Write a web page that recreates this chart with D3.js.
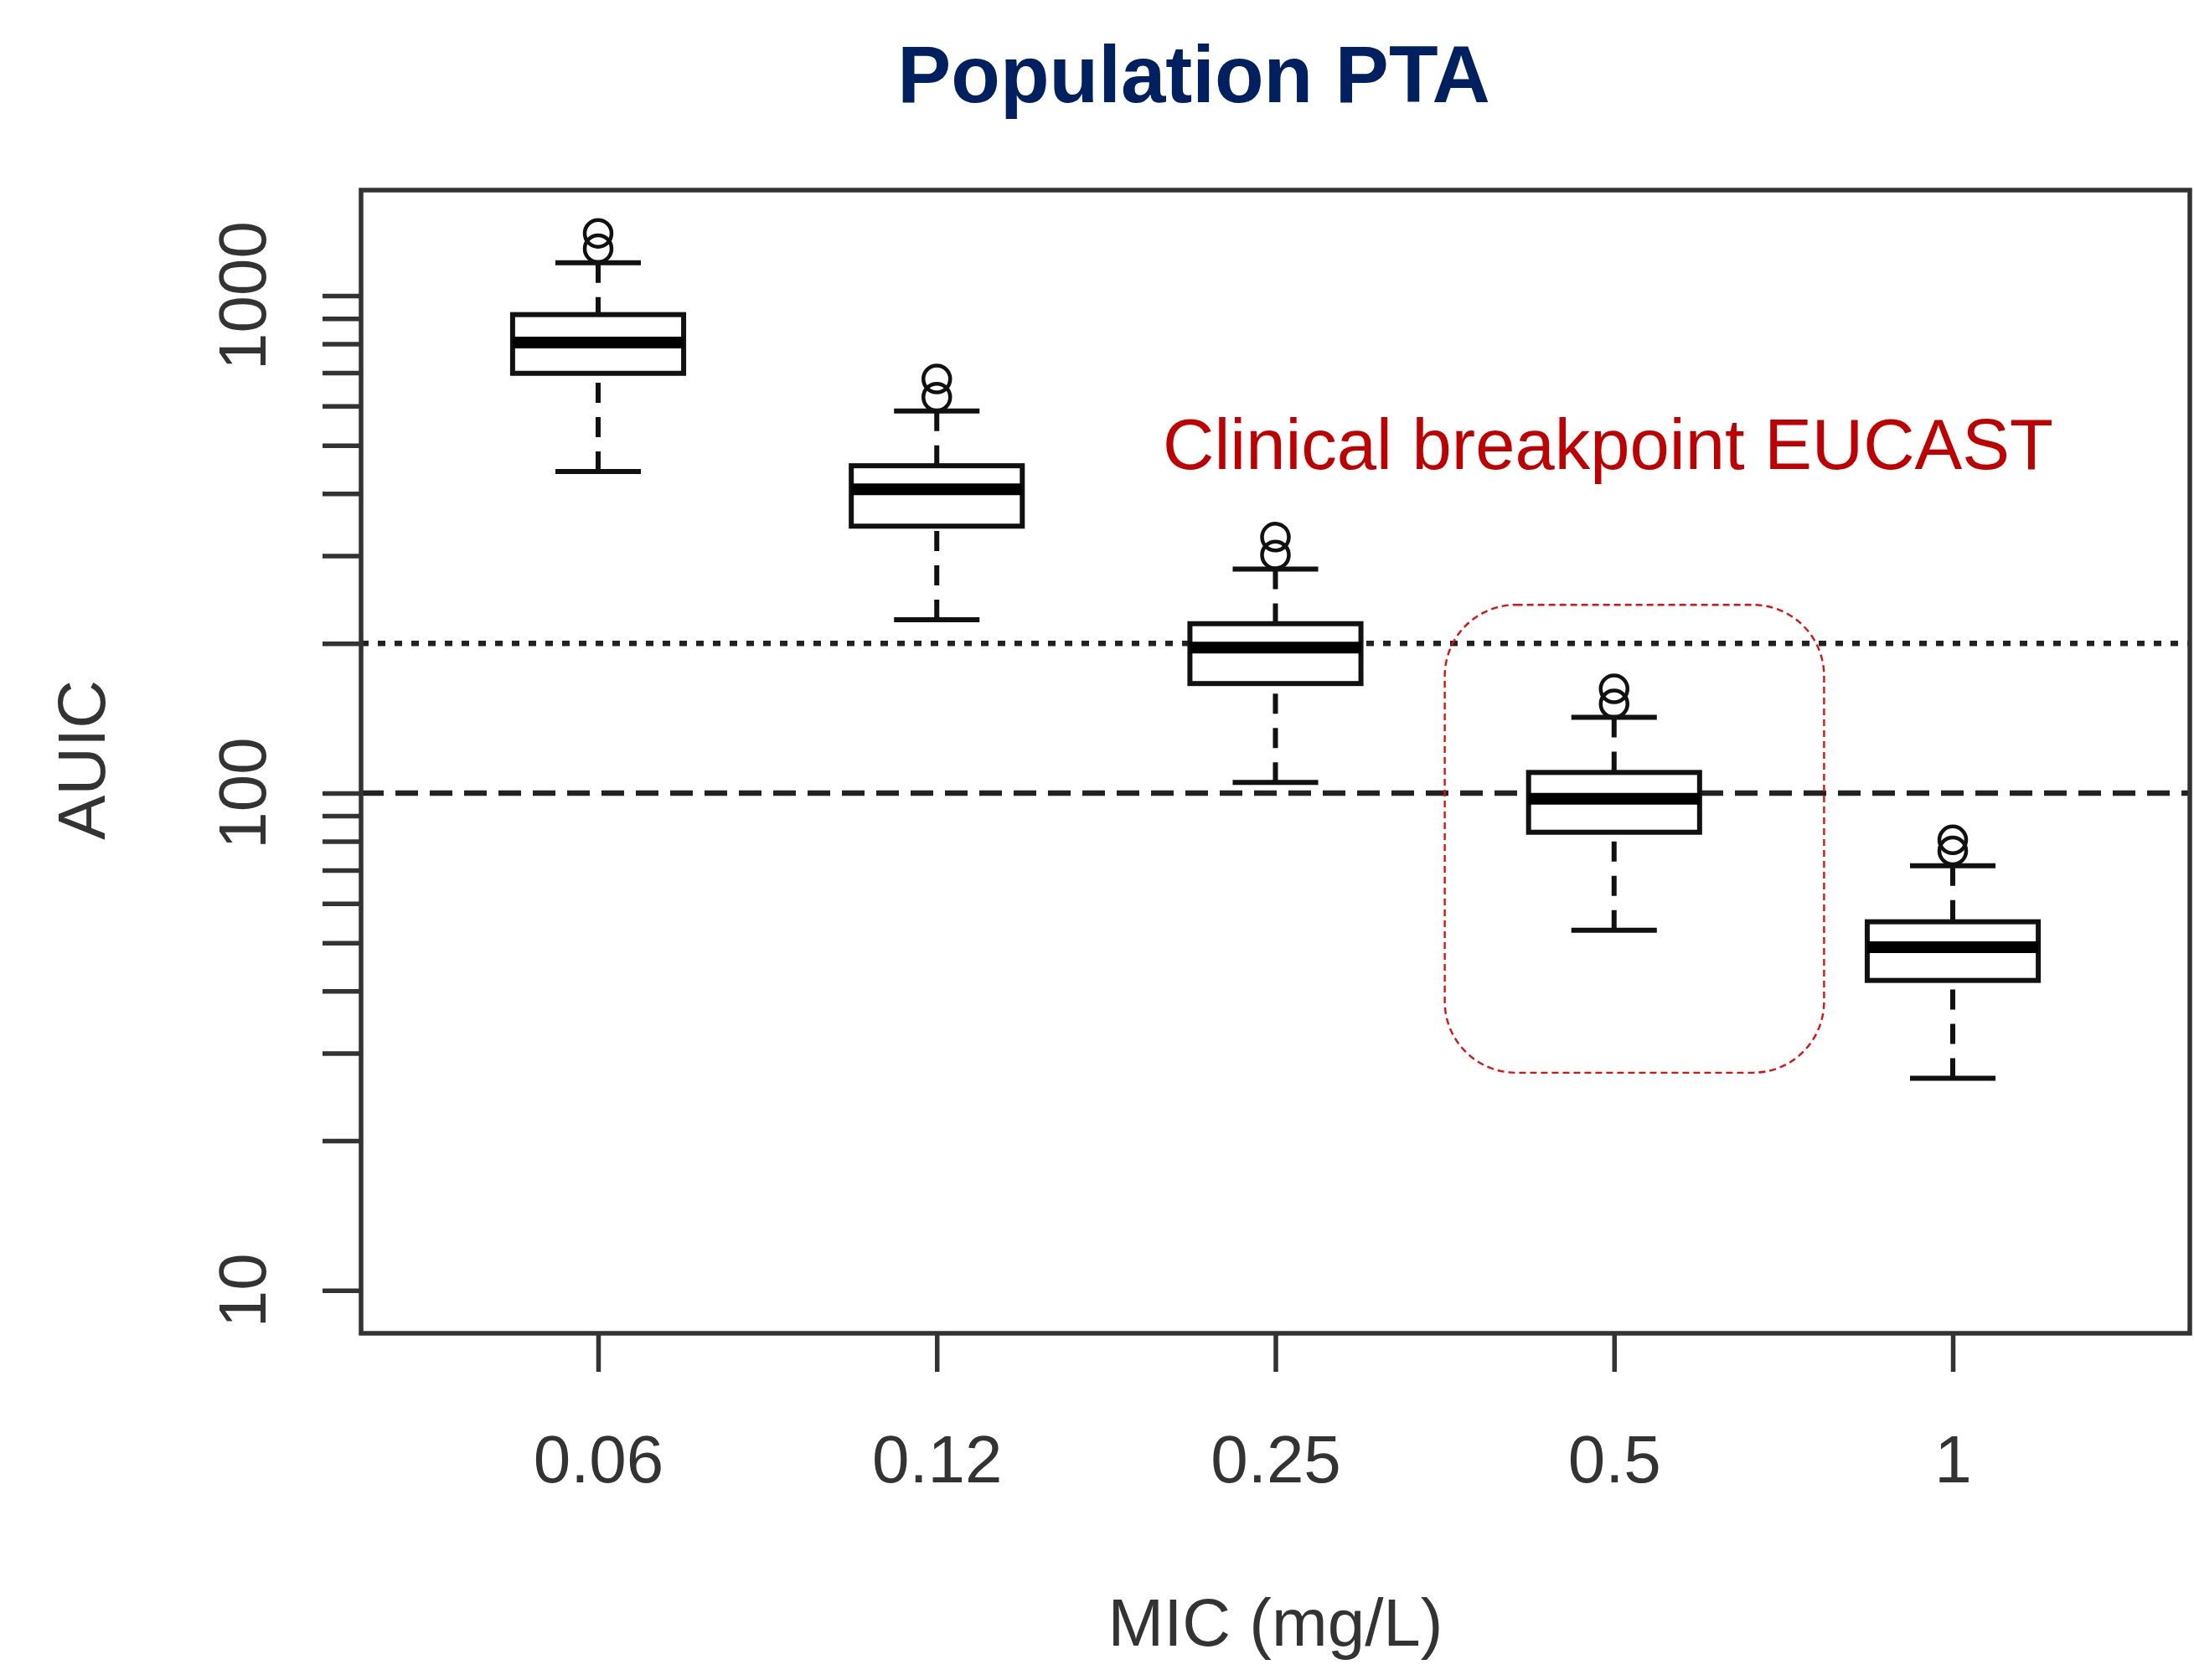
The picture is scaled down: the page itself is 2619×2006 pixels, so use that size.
<!DOCTYPE html>
<html>
<head>
<meta charset="utf-8">
<script src="https://cdn.jsdelivr.net/npm/d3@7"></script>
<style>
  body { margin: 0; background: #fff; }
  text { font-family: "Liberation Sans", Arial, sans-serif; }
</style>
</head>
<body>
<svg id="chart" width="2619" height="2006"></svg>
<script>
// MIC categories and AUIC box statistics
var micLabels = ["0.06", "0.12", "0.25", "0.5", "1"];
var lowerWhisker = [443, 223, 105, 53, 26.7];
var q1 = [698, 344, 166, 83.4, 42.0];
var median = [805, 408, 196, 97.4, 49.0];
var q3 = [916, 455, 219, 110, 55.1];
var upperWhisker = [1165, 586, 282, 142, 71.4];
var outliers = [[1243, 1334], [625, 680], [301, 327], [151, 162], [76.5, 80.5]];

var yTicks = [10, 20, 30, 40, 50, 60, 70, 80, 90, 100, 200, 300, 400, 500, 600, 700, 800, 900, 1000];
var yTickLabels = [10, 100, 1000];

// target lines: AUIC 200 (dotted) and 100 (dashed)
var refLines = [200, 100];
var refDash = ["9,11", "27,14"];

// highlighted MIC (EUCAST breakpoint) and its AUIC span
var breakpointMic = "0.5";
var breakpointSpan = [27.4, 239];

var margin = {left: 431, right: 2614, top: 227, bottom: 1592};

var svg = d3.select('#chart');

svg.append('rect')
    .attr('width', 2619)
    .attr('height', 2006)
    .attr('fill', '#fff');

var x = d3.scalePoint()
    .domain(micLabels)
    .range([margin.left, margin.right])
    .padding(0.7);

var y = d3.scaleLog()
    .domain([8.2, 1630])
    .range([margin.bottom, margin.top]);

var step = x.step(),
    boxW = step * 0.505,
    capW = boxW / 2,
    axisColor = '#333',
    boxColor = '#111',
    lw = 6;

// title
svg.append('text')
    .attr('x', 1425)
    .attr('y', 122)
    .attr('text-anchor', 'middle')
    .attr('font-size', 96)
    .attr('font-weight', 'bold')
    .attr('fill', '#002060')
    .text('Population PTA');

// reference lines
svg.selectAll('line.ref')
    .data(refLines)
    .enter().append('line')
    .attr('class', 'ref')
    .attr('x1', margin.left)
    .attr('x2', margin.right)
    .attr('y1', function(d) { return y(d); })
    .attr('y2', function(d) { return y(d); })
    .attr('stroke', '#222')
    .attr('stroke-width', 6.5)
    .attr('stroke-dasharray', function(d, i) { return refDash[i]; });

// boxes
var boxes = svg.selectAll('g.box')
    .data(micLabels)
    .enter().append('g')
    .attr('class', 'box')
    .attr('transform', function(d) { return 'translate(' + x(d) + ',0)'; });

// whiskers, drawn from the cap towards the box
boxes.append('line')
    .attr('x1', 0).attr('x2', 0)
    .attr('y1', function(d, i) { return y(lowerWhisker[i]); })
    .attr('y2', function(d, i) { return y(q1[i]); })
    .attr('stroke', boxColor)
    .attr('stroke-width', lw)
    .attr('stroke-dasharray', '24,17');

boxes.append('line')
    .attr('x1', 0).attr('x2', 0)
    .attr('y1', function(d, i) { return y(upperWhisker[i]); })
    .attr('y2', function(d, i) { return y(q3[i]); })
    .attr('stroke', boxColor)
    .attr('stroke-width', lw)
    .attr('stroke-dasharray', '24,17');

[lowerWhisker, upperWhisker].forEach(function(arr) {
    boxes.append('line')
        .attr('x1', -capW / 2)
        .attr('x2', capW / 2)
        .attr('y1', function(d, i) { return y(arr[i]); })
        .attr('y2', function(d, i) { return y(arr[i]); })
        .attr('stroke', boxColor)
        .attr('stroke-width', lw);
});

boxes.append('rect')
    .attr('x', -boxW / 2)
    .attr('width', boxW)
    .attr('y', function(d, i) { return y(q3[i]); })
    .attr('height', function(d, i) { return y(q1[i]) - y(q3[i]); })
    .attr('fill', '#fff')
    .attr('stroke', boxColor)
    .attr('stroke-width', lw);

boxes.append('line')
    .attr('x1', -boxW / 2)
    .attr('x2', boxW / 2)
    .attr('y1', function(d, i) { return y(median[i]); })
    .attr('y2', function(d, i) { return y(median[i]); })
    .attr('stroke', '#000')
    .attr('stroke-width', 14);

boxes.selectAll('circle')
    .data(function(d, i) { return outliers[i]; })
    .enter().append('circle')
    .attr('cx', 0)
    .attr('cy', function(d) { return y(d); })
    .attr('r', 16)
    .attr('fill', 'none')
    .attr('stroke', boxColor)
    .attr('stroke-width', 4.5);

// plot frame
svg.append('rect')
    .attr('x', margin.left)
    .attr('y', margin.top)
    .attr('width', margin.right - margin.left)
    .attr('height', margin.bottom - margin.top)
    .attr('fill', 'none')
    .attr('stroke', axisColor)
    .attr('stroke-width', 5.5);

// y axis
var yAxis = d3.axisLeft(y)
    .tickValues(yTicks)
    .tickSize(46)
    .tickFormat('');

var gy = svg.append('g')
    .attr('transform', 'translate(' + margin.left + ',0)')
    .call(yAxis);
gy.select('.domain').remove();
gy.selectAll('.tick line')
    .attr('stroke', axisColor)
    .attr('stroke-width', 5.5);

svg.selectAll('text.ylab')
    .data(yTickLabels)
    .enter().append('text')
    .attr('class', 'ylab')
    .attr('transform', function(d) { return 'translate(317,' + y(d) + ') rotate(-90)'; })
    .attr('text-anchor', 'middle')
    .attr('font-size', 80)
    .attr('fill', axisColor)
    .text(function(d) { return d; });

// x axis
var xAxis = d3.axisBottom(x)
    .tickSize(46)
    .tickPadding(70)
    .tickSizeOuter(0);

var gx = svg.append('g')
    .attr('transform', 'translate(0,' + margin.bottom + ')')
    .call(xAxis);
gx.select('.domain').remove();
gx.selectAll('.tick line')
    .attr('stroke', axisColor)
    .attr('stroke-width', 5.5);
gx.selectAll('.tick text')
    .attr('font-size', 80)
    .attr('font-family', '"Liberation Sans", Arial, sans-serif')
    .attr('fill', axisColor)
    .attr('dy', 0)
    .attr('y', 178);

// axis titles
svg.append('text')
    .attr('x', (margin.left + margin.right) / 2)
    .attr('y', 1965)
    .attr('text-anchor', 'middle')
    .attr('font-size', 80)
    .attr('fill', axisColor)
    .text('MIC (mg/L)');

svg.append('text')
    .attr('transform', 'translate(125,' + ((margin.top + margin.bottom) / 2 - 2) + ') rotate(-90)')
    .attr('text-anchor', 'middle')
    .attr('font-size', 80)
    .attr('fill', axisColor)
    .text('AUIC');

// breakpoint annotation
svg.append('rect')
    .attr('x', x(breakpointMic) - step * 0.5)
    .attr('width', step * 1.12)
    .attr('y', y(breakpointSpan[1]))
    .attr('height', y(breakpointSpan[0]) - y(breakpointSpan[1]))
    .attr('rx', 85)
    .attr('ry', 85)
    .attr('fill', 'none')
    .attr('stroke', '#e01010')
    .attr('stroke-width', 2.4)
    .attr('stroke-dasharray', '8,5');

svg.append('text')
    .attr('x', 1388)
    .attr('y', 560)
    .attr('font-size', 85)
    .attr('fill', '#c00000')
    .text('Clinical breakpoint EUCAST');
</script>
</body>
</html>
